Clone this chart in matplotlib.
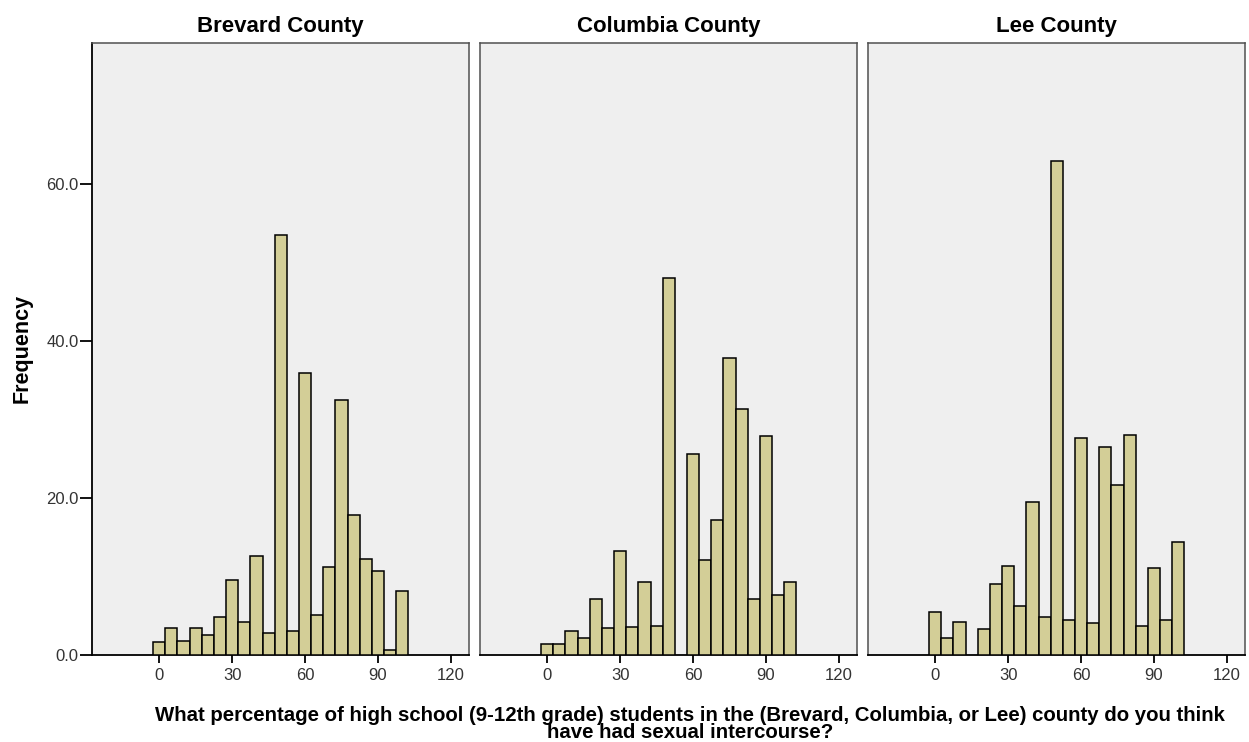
import numpy as np
import matplotlib.pyplot as plt

# bin centres (percent) shared by the three histograms
bins = [0, 5, 10, 15, 20, 25, 30, 35, 40, 45, 50, 55, 60, 65, 70, 75, 80, 85, 90, 95, 100]

brevard = [1.6, 3.5, 1.8, 3.5, 2.6, 4.9, 9.6, 4.2, 12.6, 2.8, 53.5, 3.1,
           36.0, 5.1, 11.2, 32.5, 17.8, 12.2, 10.7, 0.6, 8.2]
columbia = [1.4, 1.4, 3.0, 2.2, 7.1, 3.4, 13.2, 3.6, 9.3, 3.7, 48.0, 0.0,
            25.6, 12.1, 17.2, 37.9, 31.3, 7.1, 27.9, 7.6, 9.3]
lee = [5.5, 2.2, 4.2, 0.0, 3.3, 9.1, 11.3, 6.3, 19.5, 4.8, 63.0, 4.5,
       27.7, 4.1, 26.5, 21.7, 28.1, 3.7, 11.1, 4.5, 14.4]

counties = ['Brevard County', 'Columbia County', 'Lee County']
series = [brevard, columbia, lee]

x_ticks = [0, 30, 60, 90, 120]
y_ticks = [0, 20, 40, 60]

plt.rcParams['font.family'] = ['Liberation Sans', 'DejaVu Sans']

fig = plt.figure(figsize=(12.49, 7.42), dpi=100)
lefts = [92, 480, 868]
W, H = 1249, 742

for i, (name, vals) in enumerate(zip(counties, series)):
    ax = fig.add_axes([lefts[i] / W, (H - 655) / H, 377 / W, 612 / H])
    ax.set_facecolor('#efefef')
    heights = np.array(vals)
    keep = heights > 0
    ax.bar(np.array(bins)[keep], heights[keep], width=5, color='#d3ce97',
           edgecolor='black', linewidth=1.1, zorder=3)
    ax.set_xlim(-27.6, 127.4)
    ax.set_ylim(0, 78)
    ax.set_xticks(x_ticks)
    ax.set_xticklabels([str(t) for t in x_ticks])
    ax.tick_params(axis='x', direction='out', length=6, width=1.3, colors='black',
                   labelcolor='#333333', labelsize=12, pad=3)
    for s in ['top', 'right', 'left']:
        ax.spines[s].set_color('#505050')
        ax.spines[s].set_linewidth(1.1)
    ax.spines['bottom'].set_linewidth(1.3)
    if i == 0:
        ax.spines['left'].set_color('black')
        ax.spines['left'].set_linewidth(1.3)
        ax.set_yticks(y_ticks)
        ax.set_yticklabels(['%.1f' % t for t in y_ticks])
        ax.tick_params(axis='y', direction='out', length=9, width=1.3,
                       labelcolor='#333333', labelsize=12, pad=0.5)
    else:
        ax.set_yticks([])
    ax.set_title(name, fontsize=16, fontweight='bold', pad=8)

fig.text(22 / W, 1 - 348 / H, 'Frequency', rotation=90, ha='center', va='center',
         fontsize=15.5, fontweight='bold')

fig.text(690 / W, 1 - 724 / H,
         'What percentage of high school (9-12th grade) students in the (Brevard, Columbia, or Lee) county do you think\nhave had sexual intercourse?',
         ha='center', va='center', fontsize=14.7, fontweight='bold', linespacing=0.85)

plt.savefig('out.png', dpi=100)
